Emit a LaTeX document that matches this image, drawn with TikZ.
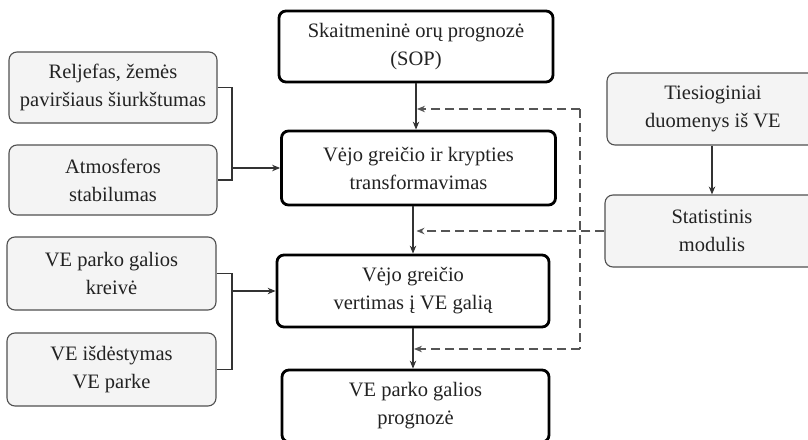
\documentclass[tikz,border=0pt]{standalone}
\usepackage{fontspec}
\setmainfont{Liberation Serif}
\usetikzlibrary{arrows.meta}
\definecolor{txt}{HTML}{222222}
\definecolor{sidefill}{HTML}{F4F4F4}
\definecolor{sidedraw}{HTML}{505050}
\definecolor{linkcol}{HTML}{333333}
\definecolor{dashcol}{HTML}{555555}
\begin{document}
\begin{tikzpicture}[x=1pt,y=-1pt,
  every node/.style={font=\fontsize{20.5}{28}\selectfont, text=txt, align=center, inner sep=0pt},
  mainbox/.style={draw=black, line width=2.8pt, rounded corners=7pt, fill=white},
  sidebox/.style={draw=sidedraw, line width=1.1pt, rounded corners=8pt, fill=sidefill},
  link/.style={draw=linkcol, line width=1.1pt},
  flow/.style={link, -{Stealth[length=8pt,width=6.5pt]}},
  fb/.style={draw=dashcol, line width=1.1pt, dash pattern=on 9pt off 5pt},
  fbarrow/.style={fb, -{Stealth[length=8pt,width=6.5pt]}}]
\clip (0,0) rectangle (808,439);

% main chain
\node[mainbox, minimum width=274pt, minimum height=71pt] (sop) at (416,46.5)
  {Skaitmeninė orų prognozė\\(SOP)};
\node[mainbox, minimum width=274pt, minimum height=74pt] (vg) at (418.5,168)
  {Vėjo greičio ir krypties\\transformavimas};
\node[mainbox, minimum width=272pt, minimum height=72pt] (vv) at (413,291)
  {Vėjo greičio\\vertimas į VE galią};
\node[mainbox, minimum width=267pt, minimum height=72pt] (vp) at (415.5,406)
  {VE parko galios\\prognozė};

% inputs on the left
\node[sidebox, minimum width=208pt, minimum height=71pt] (rel) at (113,87.5)
  {Reljefas, žemės\\paviršiaus šiurkštumas};
\node[sidebox, minimum width=208pt, minimum height=70pt] (atm) at (113,180)
  {Atmosferos\\stabilumas};
\node[sidebox, minimum width=209pt, minimum height=73pt] (kre) at (111.5,273.5)
  {VE parko galios\\kreivė};
\node[sidebox, minimum width=209pt, minimum height=73pt] (isd) at (111.5,369.5)
  {VE išdėstymas\\VE parke};

% measured data on the right
\node[sidebox, minimum width=212pt, minimum height=72pt] (ties) at (713,109)
  {Tiesioginiai\\duomenys iš VE};
\node[sidebox, minimum width=214pt, minimum height=72pt] (stat) at (712,231)
  {Statistinis\\modulis};

% main flow
\draw[flow] (sop.south) -- (sop.south |- vg.north);
\draw[flow] (vv.north |- vg.south) -- (vv.north);
\draw[flow] (vv.south) -- (vv.south |- vp.north);
\draw[flow] (ties.south -| stat.north) -- (stat.north);

% left brackets
\coordinate (jA) at (232,168);
\coordinate (jB) at (232,291);
\draw[link] (rel.east) -| (jA) |- (atm.east);
\draw[flow] (jA) -- (vg.west);
\draw[link] (kre.east) -| (jB) |- (isd.east);
\draw[flow] (jB) -- (vv.west);

% feedback from the statistical module
\coordinate (fTop) at (580,109);
\coordinate (fBot) at (580,349);
\coordinate (eTop) at (417,109);
\coordinate (eMid) at (416.5,231);
\coordinate (eBot) at (414,349);
\draw[fb] (fTop) -- (fBot);
\draw[fbarrow] (fTop) -- (eTop);
\draw[fbarrow] (stat.west) -- (eMid);
\draw[fbarrow] (fBot) -- (eBot);
\end{tikzpicture}
\end{document}
